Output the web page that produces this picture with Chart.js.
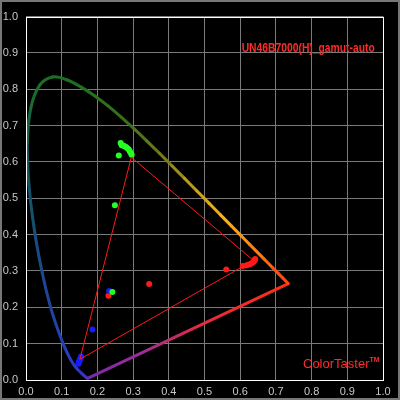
<!DOCTYPE html>
<html>
<head>
<meta charset="utf-8">
<script src="https://cdn.jsdelivr.net/npm/chart.js@4"></script>
<style>
  body { margin: 0; background: #000; }
  #frame { position: relative; width: 400px; height: 400px; box-sizing: border-box; border: 2px solid #777; background: #000; }
  #wrap { position: absolute; left: 0; top: 0; width: 396px; height: 396px; }
  .lbl { position: absolute; color: #ff2a2a; font-family: "Liberation Sans", Arial, sans-serif; white-space: nowrap; line-height: 1; }
  #title { right: 23px; top: 40px; font-size: 12px; font-weight: bold; transform: scaleX(0.86); transform-origin: right center; }
  #brand { left: 301px; top: 354px; font-size: 13px; }
  #brand sup { font-size: 7px; vertical-align: 6px; font-weight: bold; }
</style>
</head>
<body>
<div id="frame">
  <div id="wrap"><canvas id="c" width="396" height="396"></canvas></div>
  <div class="lbl" id="title">UN46B7000(H)_gamut-auto</div>
  <div class="lbl" id="brand">ColorTaster<sup>TM</sup></div>
</div>
<script>
// CIE 1931 spectral locus
const locusNm = [380, 420, 440, 450, 460, 465, 470, 475, 480, 485, 490, 495, 500, 505, 510, 515, 520, 525, 530, 535, 540, 545, 550, 555, 560, 565, 570, 575, 580, 585, 590, 595, 600, 610, 620, 630, 640, 650, 700];
const locusX = [0.1741, 0.1714, 0.1644, 0.1566, 0.1440, 0.1355, 0.1241, 0.1096, 0.0913, 0.0687, 0.0454, 0.0235, 0.0082, 0.0039, 0.0139, 0.0389, 0.0743, 0.1142, 0.1547, 0.1929, 0.2296, 0.2658, 0.3016, 0.3373, 0.3731, 0.4087, 0.4441, 0.4788, 0.5125, 0.5448, 0.5752, 0.6029, 0.6270, 0.6658, 0.6915, 0.7079, 0.7190, 0.7260, 0.7347];
const locusY = [0.0050, 0.0051, 0.0109, 0.0177, 0.0297, 0.0399, 0.0578, 0.0868, 0.1327, 0.2007, 0.2950, 0.4127, 0.5384, 0.6548, 0.7502, 0.8120, 0.8338, 0.8262, 0.8059, 0.7816, 0.7543, 0.7243, 0.6923, 0.6589, 0.6245, 0.5896, 0.5547, 0.5202, 0.4866, 0.4544, 0.4242, 0.3965, 0.3725, 0.3340, 0.3083, 0.2920, 0.2809, 0.2740, 0.2653];

// measured gamut triangle: green, blue, red
const gamutX = [0.295, 0.151, 0.637, 0.295];
const gamutY = [0.613, 0.057, 0.329, 0.613];

// measured points
const greenX = [0.265, 0.268, 0.272, 0.276, 0.280, 0.284, 0.288, 0.291, 0.294, 0.296, 0.260, 0.249, 0.242];
const greenY = [0.652, 0.646, 0.645, 0.643, 0.641, 0.638, 0.634, 0.629, 0.624, 0.620, 0.618, 0.481, 0.242];
const blueX = [0.147, 0.148, 0.150, 0.151, 0.153, 0.154, 0.186, 0.233];
const blueY = [0.045, 0.050, 0.053, 0.057, 0.061, 0.065, 0.139, 0.245];
const redX = [0.231, 0.345, 0.561, 0.607, 0.618, 0.625, 0.630, 0.635, 0.638, 0.641, 0.642];
const redY = [0.232, 0.264, 0.304, 0.314, 0.316, 0.318, 0.320, 0.323, 0.326, 0.330, 0.333];

const ticks = [0, 0.1, 0.2, 0.3, 0.4, 0.5, 0.6, 0.7, 0.8, 0.9, 1.0];

function pts(xs, ys) { return xs.map((x, i) => ({ x: x, y: ys[i] })); }

const stops = [
  [380, [110, 40, 170]], [440, [60, 50, 200]], [470, [40, 60, 190]], [485, [30, 70, 150]],
  [498, [18, 85, 100]], [510, [25, 110, 45]], [525, [30, 112, 32]], [545, [58, 112, 25]],
  [560, [120, 125, 25]], [572, [200, 160, 30]], [585, [250, 175, 30]], [600, [255, 125, 20]],
  [620, [255, 80, 16]], [700, [255, 50, 16]]
];
function nmColor(nm) {
  for (let i = 0; i < stops.length - 1; i++) {
    const a = stops[i], b = stops[i + 1];
    if (nm <= b[0]) {
      const t = Math.max(0, (nm - a[0]) / (b[0] - a[0]));
      const c = a[1].map((v, k) => Math.round(v + (b[1][k] - v) * t));
      return `rgb(${c[0]},${c[1]},${c[2]})`;
    }
  }
  return 'rgb(255,50,16)';
}

const lastI = locusNm.length - 1;

const boxPlugin = {
  id: 'box',
  afterDatasetsDraw(chart) {
    const a = chart.chartArea, ctx = chart.ctx;
    ctx.save();
    ctx.strokeStyle = '#ffffff';
    ctx.lineWidth = 1;
    ctx.strokeRect(Math.round(a.left) + 0.5, Math.round(a.top) + 0.5, Math.round(a.right - a.left), Math.round(a.bottom - a.top));
    ctx.restore();
  }
};

const axisOpts = {
  type: 'linear', min: 0, max: 1,
  afterBuildTicks: s => { s.ticks = ticks.map(v => ({ value: v })); },
  grid: { color: '#7a7a7a', borderDash: [2, 2], drawTicks: false },
  border: { display: false },
  ticks: { color: '#c8c8c8', font: { family: 'Liberation Sans', size: 11 }, callback: v => v.toFixed(1) }
};

new Chart(document.getElementById('c'), {
  type: 'scatter',
  data: {
    datasets: [
      {
        data: pts(locusX, locusY), showLine: true, pointRadius: 0, borderWidth: 3, tension: 0.35,
        borderCapStyle: 'round', borderJoinStyle: 'round',
        segment: { borderColor: c => nmColor(locusNm[c.p0DataIndex]) }
      },
      {
        data: [{ x: locusX[0], y: locusY[0] }, { x: locusX[lastI], y: locusY[lastI] }],
        showLine: true, pointRadius: 0, borderWidth: 3,
        borderColor: c => {
          const ch = c.chart;
          if (!ch.chartArea) return '#a03090';
          const xs = ch.scales.x, ys = ch.scales.y;
          const g = ch.ctx.createLinearGradient(xs.getPixelForValue(locusX[0]), ys.getPixelForValue(locusY[0]),
            xs.getPixelForValue(locusX[lastI]), ys.getPixelForValue(locusY[lastI]));
          g.addColorStop(0, '#7a2aa8');
          g.addColorStop(0.25, '#9a2c9c');
          g.addColorStop(0.55, '#e02a40');
          g.addColorStop(1, '#ff3010');
          return g;
        }
      },
      { data: pts(gamutX, gamutY), showLine: true, pointRadius: 0, borderWidth: 1, borderColor: '#ff1a1a' },
      { data: pts(greenX, greenY), pointRadius: 3, borderWidth: 0, backgroundColor: '#22ff22' },
      { data: pts(blueX, blueY), pointRadius: 3, borderWidth: 0, backgroundColor: '#1a1aff' },
      { data: pts(redX, redY), pointRadius: 3, borderWidth: 0, backgroundColor: '#ff1a1a' }
    ]
  },
  options: {
    responsive: false, animation: false,
    layout: { padding: { left: 0, top: 14, right: 15, bottom: 0 } },
    plugins: { legend: { display: false }, tooltip: { enabled: false } },
    scales: {
      x: Object.assign({}, axisOpts, {
        ticks: Object.assign({}, axisOpts.ticks, { padding: 5 }),
        afterFit: s => { s.height = 18; }
      }),
      y: Object.assign({}, axisOpts, {
        ticks: Object.assign({}, axisOpts.ticks, { padding: 8 }),
        afterFit: s => { s.width = 24; }
      })
    }
  },
  plugins: [boxPlugin]
});
</script>
</body>
</html>
